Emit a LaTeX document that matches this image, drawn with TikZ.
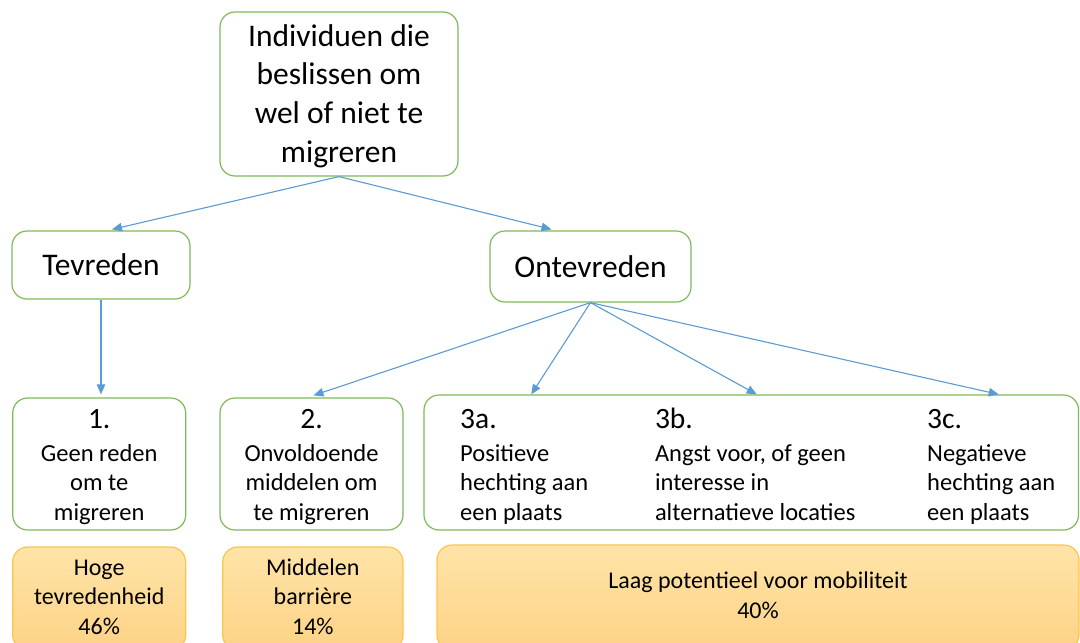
\documentclass[tikz,border=0pt]{standalone}
\usepackage{fontspec}
\setmainfont{Carlito}
\usetikzlibrary{arrows.meta}

\definecolor{boxgreen}{HTML}{7FBA5A}
\definecolor{linkblue}{HTML}{5B9BD5}
\definecolor{resline}{HTML}{FFC54A}
\definecolor{restop}{HTML}{FFE4A8}
\definecolor{resbot}{HTML}{FDD386}

\newcommand\fsbig{\fontsize{31.5}{38.8}\selectfont}
\newcommand\fsnum{\fontsize{29.5}{34}\selectfont}
\newcommand\fsbody{\fontsize{24.5}{29.5}\selectfont}
\newcommand\fsres{\fontsize{24}{29.5}\selectfont}

\tikzset{
  box/.style={draw=boxgreen, line width=1.2pt, rounded corners=15pt, fill=white,
              inner sep=0pt, align=center},
  res/.style={draw=resline, line width=1.2pt, rounded corners=15pt,
              top color=restop, bottom color=resbot, inner sep=0pt},
  link/.style={draw=linkblue, line width=1.1pt, -{Triangle[length=10pt,width=8.5pt]}},
  line/.style={inner sep=0pt, anchor=base, font=\fsbody},
  lineL/.style={inner sep=0pt, anchor=base west, font=\fsbody},
  num/.style={inner sep=0pt, anchor=base, font=\fsnum},
  numL/.style={inner sep=0pt, anchor=base west, font=\fsnum},
  resline/.style={inner sep=0pt, anchor=base, font=\fsres},
}

\begin{document}
\begin{tikzpicture}[x=1pt,y=-1pt]
\useasboundingbox (0,0) rectangle (1080,643);
\clip (0,0) rectangle (1080,643);
\fill[white] (0,0) rectangle (1080,643);

% decision tree boxes
\node[box, minimum width=238pt, minimum height=164pt, font=\fsbig] (top) at (339,94)
  {\rule{0pt}{26pt}Individuen die\\beslissen om\\wel of niet te\\migreren};
\node[box, minimum width=178pt, minimum height=68pt, font=\fsbig] (tev) at (101,265) {Tevreden};
\node[box, minimum width=201pt, minimum height=71pt, font=\fsbig] (ont) at (590.5,266.5) {Ontevreden};
\node[box, minimum width=173pt, minimum height=132pt] (n1) at (99.2,464) {};
\node[box, minimum width=183pt, minimum height=132pt] (n2) at (311.5,464) {};
\node[box, minimum width=654.5pt, minimum height=135pt] (n3) at (751.25,462.5) {};

% outcome boxes (run past the lower edge)
\node[res, minimum width=173pt, minimum height=103pt] (o1) at (99.2,598.5) {};
\node[res, minimum width=180.3pt, minimum height=103pt] (o2) at (312.85,598.5) {};
\node[res, minimum width=642pt, minimum height=105pt] (o3) at (758,597.5) {};

% connectors
\draw[link] (top.south) -- ([xshift=11pt,yshift=1pt]tev.north);
\draw[link] (top.south) -- ([xshift=-39pt,yshift=1pt]ont.north);
\draw[link] (tev.south) -- ([yshift=3pt]tev.south |- n1.north);
\draw[link] (ont.south) -- ([xshift=2pt,yshift=2pt]n2.north);
\draw[link] (ont.south) -- ([xshift=-220pt]n3.north);
\draw[link] (ont.south) -- ([xshift=5.5pt]n3.north);
\draw[link] (ont.south) -- ([xshift=247.5pt]n3.north);

% box 1
\node[num] (n1h) at (99.2,428) {1.};
\foreach \t [count=\i] in {Geen reden, om te, migreren}
  \node[line] (n1l\i) at (99.2,431.5+29.5*\i) {\t};

% box 2
\node[num] (n2h) at (311.5,428) {2.};
\foreach \t [count=\i] in {Onvoldoende, middelen om, te migreren}
  \node[line] (n2l\i) at (311.5,431.5+29.5*\i) {\t};

% box 3, three columns
\node[numL] (n3ah) at (460,428) {3a.};
\foreach \t [count=\i] in {Positieve, hechting aan, een plaats}
  \node[lineL] (n3al\i) at (460,431.5+29.5*\i) {\t};
\node[numL] (n3bh) at (654.8,428) {3b.};
\foreach \t [count=\i] in {{Angst voor, of geen}, interesse in, alternatieve locaties}
  \node[lineL] (n3bl\i) at (654.8,431.5+29.5*\i) {\t};
\node[numL] (n3ch) at (927,428) {3c.};
\foreach \t [count=\i] in {Negatieve, hechting aan, een plaats}
  \node[lineL] (n3cl\i) at (927,431.5+29.5*\i) {\t};

% outcome texts
\foreach \t [count=\i] in {Hoge, tevredenheid, 46\%}
  \node[resline] (o1l\i) at (99.2,545.5+29.5*\i) {\t};
\foreach \t [count=\i] in {Middelen, barrière, 14\%}
  \node[resline] (o2l\i) at (312.85,545.5+29.5*\i) {\t};
\node[resline] (o3l1) at (758,588) {Laag potentieel voor mobiliteit};
\node[resline] (o3l2) at (758,618) {40\%};
\end{tikzpicture}
\end{document}
